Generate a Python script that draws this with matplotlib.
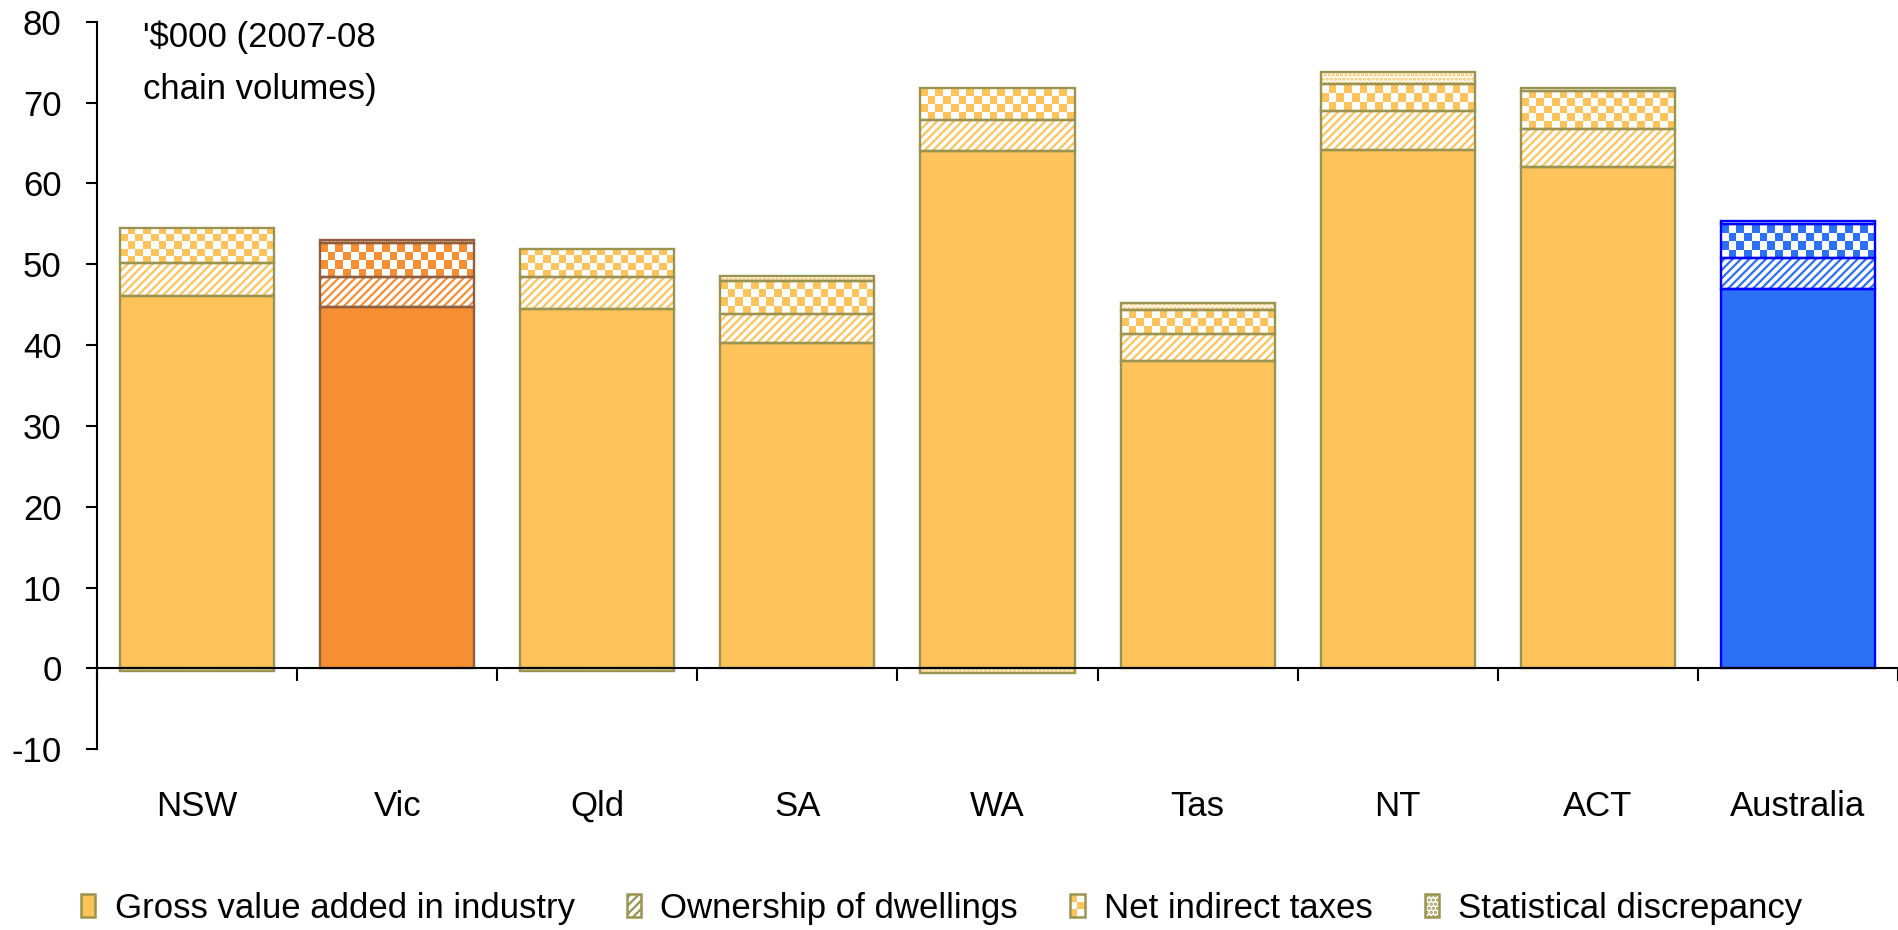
import numpy as np
import matplotlib
matplotlib.use("Agg")
import matplotlib.pyplot as plt
import matplotlib.transforms as mtransforms
from matplotlib.colors import ListedColormap
from matplotlib.patches import Rectangle
from matplotlib.legend_handler import HandlerBase
from matplotlib import font_manager

names = {f.name for f in font_manager.fontManager.ttflist}
main_font = 'Liberation Sans Narrow' if 'Liberation Sans Narrow' in names else 'Liberation Sans'
FS = 30 if main_font == 'Liberation Sans Narrow' else 25
plt.rcParams['font.family'] = [main_font, 'DejaVu Sans']
plt.rcParams['hatch.linewidth'] = 1.6

categories = ["NSW", "Vic", "Qld", "SA", "WA", "Tas", "NT", "ACT", "Australia"]
gva = [46.1, 44.7, 44.5, 40.3, 64.0, 38.0, 64.2, 62.0, 46.9]
dwellings = [4.0, 3.7, 3.9, 3.5, 3.9, 3.4, 4.8, 4.7, 3.9]
taxes = [4.4, 4.2, 3.5, 4.1, 3.9, 2.9, 3.3, 4.8, 4.2]
discrepancy = [-0.3, 0.4, -0.3, 0.7, -0.5, 0.9, 1.5, 0.3, 0.3]
series_names = ["Gross value added in industry", "Ownership of dwellings",
                "Net indirect taxes", "Statistical discrepancy"]
yticks = [-10, 0, 10, 20, 30, 40, 50, 60, 70, 80]
unit_label = "'$000 (2007-08\nchain volumes)"

# styling
base_col = ["#FEC35B"] * 9
edge_col = ["#9A9450"] * 9
base_col[1] = "#F68E34"; edge_col[1] = "#8E5E3E"
base_col[8] = "#2C70F6"; edge_col[8] = "#0000FF"

W, H = 1899, 930
fig = plt.figure(figsize=(W / 100, H / 100), dpi=100)
ax_left, ax_bottom = 97 / W, 1 - 749.3 / H
ax_w, ax_h = 1801 / W, (749.3 - 21.8) / H
ax = fig.add_axes([ax_left, ax_bottom, ax_w, ax_h])

x = np.arange(len(categories))
g = np.array(gva); d = np.array(dwellings); t = np.array(taxes); s = np.array(discrepancy)
bw = 0.77
lw = 1.7

# GVA
ax.bar(x, g, bw, color=base_col, edgecolor=edge_col, linewidth=lw, zorder=3)
# Ownership of dwellings (diagonal stripes)
for i in range(len(x)):
    ax.bar(x[i], d[i], bw, bottom=g[i], facecolor="white", edgecolor=base_col[i],
           hatch="////", linewidth=0, zorder=2)
ax.bar(x, d, bw, bottom=g, facecolor="none", edgecolor=edge_col, linewidth=lw, zorder=3)

# Net indirect taxes (checkerboard)
ylim = (-10, 80)
xlim = (-0.5, len(x) - 0.5)
px_per_x = 1801 / (xlim[1] - xlim[0])
px_per_y = 727.5 / (ylim[1] - ylim[0])
check_px = 7.7
edges = ax.bar(x, t, bw, bottom=g + d, facecolor="none", edgecolor=edge_col,
               linewidth=lw, zorder=3)
for i, rect in enumerate(edges.patches):
    x0 = rect.get_x(); y0 = rect.get_y()
    w = rect.get_width(); h = rect.get_height()
    nx = max(1, int(round(w * px_per_x / check_px)))
    ny = max(1, int(round(h * px_per_y / check_px)))
    arr = (np.add.outer(np.arange(ny), np.arange(nx)) % 2).astype(float)
    cm = ListedColormap(["white", base_col[i]])
    im = ax.imshow(arr, extent=(x0, x0 + w, y0, y0 + h), origin="lower",
                   cmap=cm, vmin=0, vmax=1, aspect="auto",
                   interpolation="nearest", zorder=2)
    im.set_clip_path(rect)

# Statistical discrepancy (dots)
top = g + d + t
disc_bottom = np.where(s >= 0, top, 0.0)
for i in range(len(x)):
    ax.bar(x[i], s[i], bw, bottom=disc_bottom[i], facecolor="white",
           edgecolor=base_col[i], hatch="....", linewidth=0, zorder=2)
ax.bar(x, s, bw, bottom=disc_bottom, facecolor="none", edgecolor=edge_col,
       linewidth=lw, zorder=3)

ax.set_xlim(*xlim)
ax.set_ylim(*ylim)

for sp in ["top", "right"]:
    ax.spines[sp].set_visible(False)
ax.spines["bottom"].set_position(("data", 0))
ax.spines["left"].set_linewidth(1.5)
ax.spines["bottom"].set_linewidth(1.5)
ax.spines["bottom"].set_zorder(4)

ax.set_yticks(yticks)
ax.set_yticklabels([str(v) for v in yticks])
ax.tick_params(axis="y", direction="out", length=8, width=1.5, pad=17.5, labelsize=FS)
ax.set_xticks(np.arange(len(x) + 1) - 0.5)
ax.set_xticklabels([])
ax.tick_params(axis="x", direction="out", length=9, width=1.5)

blend = mtransforms.blended_transform_factory(ax.transData, fig.transFigure)
for i, c in enumerate(categories):
    ax.text(x[i], 1 - 806 / H, c, transform=blend, ha="center", va="center", fontsize=FS)

fig.text(143 / W, 1 - 21 / H, unit_label, ha="left", va="top", fontsize=FS,
         linespacing=1.7)

# Legend
class CheckerHandler(HandlerBase):
    def create_artists(self, legend, orig_handle, xdescent, ydescent, width,
                       height, fontsize, trans):
        arts = [Rectangle((-xdescent, -ydescent), width, height, facecolor="white",
                          edgecolor="none", transform=trans)]
        nx, ny = 2, 3
        cw, ch = width / nx, height / ny
        for a in range(ny):
            for b in range(nx):
                if (a + b) % 2 == 0:
                    arts.append(Rectangle((-xdescent + b * cw, -ydescent + a * ch), cw, ch,
                                          facecolor=base_col[0], edgecolor="none",
                                          transform=trans))
        arts.append(Rectangle((-xdescent, -ydescent), width, height, facecolor="none",
                              edgecolor=edge_col[0], linewidth=1.8, transform=trans))
        return arts

h1 = Rectangle((0, 0), 1, 1, facecolor=base_col[0], edgecolor=edge_col[0], linewidth=1.8)
h2 = Rectangle((0, 0), 1, 1, facecolor="white", edgecolor=edge_col[0], linewidth=1.8,
               hatch="////")
h3 = Rectangle((0, 0), 1, 1, facecolor="white", edgecolor=edge_col[0], linewidth=1.8)
h4 = Rectangle((0, 0), 1, 1, facecolor="white", edgecolor=edge_col[0], linewidth=1.8,
               hatch="....")
leg = fig.legend([h1, h2, h3, h4], series_names, loc="center",
                 bbox_to_anchor=(941.6 / W, 1 - 908 / H), ncol=4, frameon=False,
                 fontsize=FS, handlelength=0.42, handleheight=0.62, handletextpad=0.55,
                 columnspacing=1.5, handler_map={h3: CheckerHandler()})

fig.savefig("out.png", dpi=100)
